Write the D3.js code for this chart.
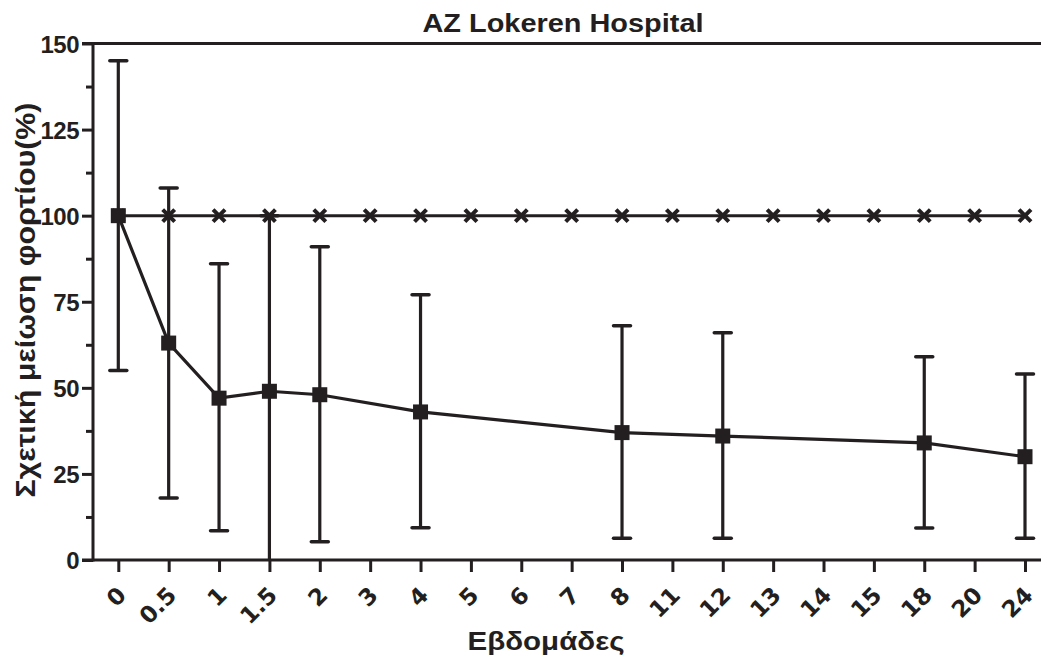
<!DOCTYPE html>
<html>
<head>
<meta charset="utf-8">
<script src="https://cdn.jsdelivr.net/npm/d3@7"></script>
<style>
  html, body { margin: 0; padding: 0; background: #fff; }
  svg { display: block; }
  text { font-family: "Liberation Sans", Arial, sans-serif; fill: #231f20; }
  text.xlab { font-family: "DejaVu Sans", sans-serif; font-size: 23px; font-weight: bold; }
</style>
</head>
<body>
<svg id="chart" width="1041" height="663"></svg>
<script>
// ---- data ----
const categories = ["0","0.5","1","1.5","2","3","4","5","6","7","8","11","12","13","14","15","18","20","24"];
const referenceValue = 100;                 // control line (x markers at every week)
const seriesWeeks = ["0","0.5","1","1.5","2","4","8","12","18","24"];
const seriesMean  = [100, 63, 47, 49, 48, 43, 37, 36, 34, 30];
const seriesLow   = [55, 18, 8.5, 0, 5.3, 9.4, 6.3, 6.3, 9.3, 6.3];
const seriesHigh  = [145, 108, 86, 100, 91, 77, 68, 66, 59, 54];
const yTicks = [0, 25, 50, 75, 100, 125, 150];
const yMinorTicks = [12.5, 37.5, 62.5, 87.5, 112.5, 137.5];
const titleText = "AZ Lokeren Hospital";
const xTitle = "Εβδομάδες";
const yTitle = "Σχετική μείωση φορτίου(%)";

// ---- setup ----
const ink = "#231f20";
const svg = d3.select("#chart");
const x = d3.scalePoint().domain(categories).range([118.3, 1025]);
const y = d3.scaleLinear().domain([0, 150]).range([560, 43.5]);
const axisX = 93;

// top line at 150
svg.append("line").attr("x1", 82).attr("x2", 1041)
  .attr("y1", y(150)).attr("y2", y(150))
  .attr("stroke", ink).attr("stroke-width", 3);

// y axis
const yAxis = d3.axisLeft(y).tickValues(yTicks).tickSize(11).tickPadding(3).tickFormat(d3.format("d"));
const gy = svg.append("g").attr("transform", `translate(${axisX},0)`).call(yAxis);
gy.select(".domain").remove();
gy.selectAll(".tick line").attr("stroke", ink).attr("stroke-width", 3);
gy.selectAll(".tick text")
  .style("font-size", "24px").style("font-weight", "bold").attr("fill", ink)
  .attr("dy", "0.36em").attr("letter-spacing", "-0.5");
const yMinor = d3.axisLeft(y).tickValues(yMinorTicks).tickSize(7).tickFormat("");
const gym = svg.append("g").attr("transform", `translate(${axisX},0)`).call(yMinor);
gym.select(".domain").remove();
gym.selectAll(".tick line").attr("stroke", ink).attr("stroke-width", 3);
svg.append("line").attr("x1", axisX).attr("x2", axisX)
  .attr("y1", y(150) - 1.5).attr("y2", y(0) + 1.5)
  .attr("stroke", ink).attr("stroke-width", 3);

// x axis
const xAxis = d3.axisBottom(x).tickSize(12).tickFormat("");
const gx = svg.append("g").attr("transform", `translate(0,${y(0)})`).call(xAxis);
gx.select(".domain").remove();
gx.selectAll(".tick line").attr("stroke", ink).attr("stroke-width", 3);
svg.append("line").attr("x1", 82).attr("x2", 1041)
  .attr("y1", y(0)).attr("y2", y(0))
  .attr("stroke", ink).attr("stroke-width", 3);
gx.selectAll(".tick").append("text")
  .attr("class", "xlab")
  .attr("transform", "translate(3,31) rotate(-45)")
  .attr("text-anchor", "end")
  .attr("dy", "0.35em")
  .attr("fill", ink)
  .text(d => d);

// reference line at 100 with x markers
svg.append("line")
  .attr("x1", x(categories[0])).attr("x2", x(categories[categories.length - 1]))
  .attr("y1", y(referenceValue)).attr("y2", y(referenceValue))
  .attr("stroke", ink).attr("stroke-width", 3);
const xm = 6;
svg.append("g").selectAll("path").data(categories).join("path")
  .attr("d", d => {
    const cx = x(d), cy = y(referenceValue);
    return `M${cx - xm},${cy - xm}L${cx + xm},${cy + xm}M${cx - xm},${cy + xm}L${cx + xm},${cy - xm}`;
  })
  .attr("stroke", ink).attr("stroke-width", 4).attr("fill", "none");

// series
const pts = seriesWeeks.map((w, i) => ({ w, m: seriesMean[i], lo: seriesLow[i], hi: seriesHigh[i] }));
const cap = 8.5;
const eb = svg.append("g").selectAll("g").data(pts).join("g");
eb.append("line").attr("x1", d => x(d.w)).attr("x2", d => x(d.w))
  .attr("y1", d => y(d.hi)).attr("y2", d => y(d.lo))
  .attr("stroke", ink).attr("stroke-width", 3.2);
eb.append("line").attr("x1", d => x(d.w) - cap).attr("x2", d => x(d.w) + cap)
  .attr("y1", d => y(d.hi)).attr("y2", d => y(d.hi))
  .attr("stroke", ink).attr("stroke-width", 3.5).attr("stroke-linecap", "round");
eb.filter(d => d.lo > 0).append("line").attr("x1", d => x(d.w) - cap).attr("x2", d => x(d.w) + cap)
  .attr("y1", d => y(d.lo)).attr("y2", d => y(d.lo))
  .attr("stroke", ink).attr("stroke-width", 3.5).attr("stroke-linecap", "round");

svg.append("path").datum(pts)
  .attr("d", d3.line().x(d => x(d.w)).y(d => y(d.m)))
  .attr("fill", "none").attr("stroke", ink).attr("stroke-width", 3.2);

const sq = 15;
svg.append("g").selectAll("rect").data(pts).join("rect")
  .attr("x", d => x(d.w) - sq / 2).attr("y", d => y(d.m) - sq / 2)
  .attr("width", sq).attr("height", sq).attr("fill", ink);

// titles
svg.append("text").attr("x", 563).attr("y", 32).attr("text-anchor", "middle")
  .style("font-size", "26px").style("font-weight", "bold")
  .attr("textLength", 281).attr("lengthAdjust", "spacingAndGlyphs")
  .text(titleText);
svg.append("text").attr("x", 546).attr("y", 650).attr("text-anchor", "middle")
  .style("font-size", "26px").style("font-weight", "bold")
  .attr("textLength", 157).attr("lengthAdjust", "spacingAndGlyphs")
  .text(xTitle);
svg.append("text").attr("transform", "translate(35,300) rotate(-90)")
  .attr("text-anchor", "middle")
  .style("font-size", "27px").style("font-weight", "bold")
  .attr("textLength", 395).attr("lengthAdjust", "spacingAndGlyphs")
  .text(yTitle);
</script>
</body>
</html>
